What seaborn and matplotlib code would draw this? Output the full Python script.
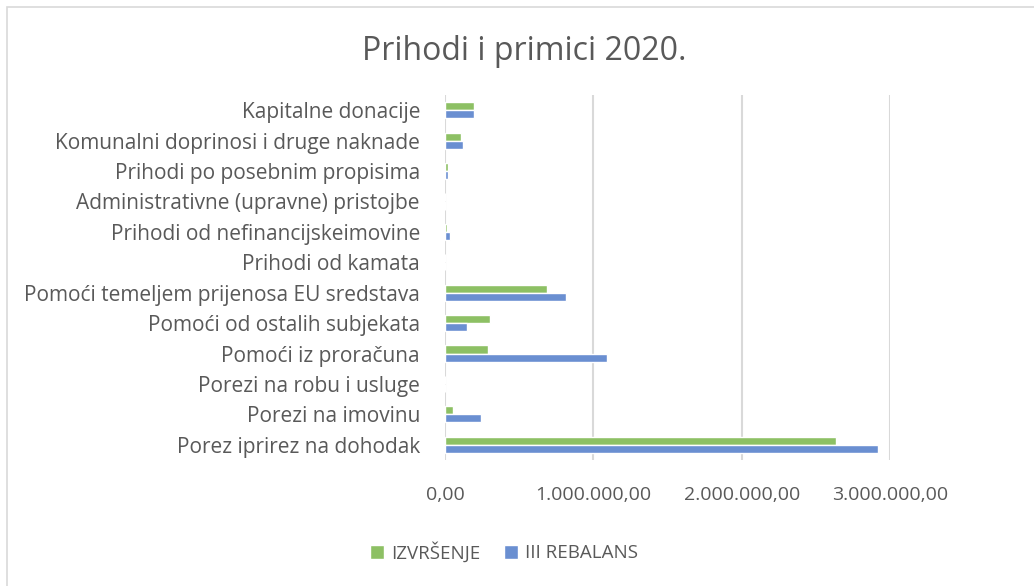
import pandas as pd
import numpy as np
import matplotlib
matplotlib.use("Agg")
import matplotlib.pyplot as plt
import seaborn as sns
from matplotlib.ticker import FuncFormatter
from matplotlib.patches import Rectangle

# kategorije od vrha prema dnu
kategorije = [
    "Kapitalne donacije",
    "Komunalni doprinosi i druge naknade",
    "Prihodi po posebnim propisima",
    "Administrativne (upravne) pristojbe",
    "Prihodi od nefinancijskeimovine",
    "Prihodi od kamata",
    "Pomoći temeljem prijenosa EU sredstava",
    "Pomoći od ostalih subjekata",
    "Pomoći iz proračuna",
    "Porezi na robu i usluge",
    "Porezi na imovinu",
    "Porez iprirez na dohodak",
]
izvrsenje = [195000, 108000, 18000, 0, 11000, 0, 688000, 305000, 292000, 0, 54000, 2633000]
rebalans = [195000, 119000, 18000, 0, 34000, 0, 817000, 148000, 1090000, 0, 245000, 2918000]
serije = ["IZVRŠENJE", "III REBALANS"]
x_ticks = [0, 1000000, 2000000, 3000000]

df = pd.DataFrame({
    "kategorija": kategorije * 2,
    "iznos": izvrsenje + rebalans,
    "serija": [serije[0]] * len(kategorije) + [serije[1]] * len(kategorije),
})

sns.set_style("white")
plt.rcParams['font.family'] = ['Open Sans', 'DejaVu Sans']
siva = '#595959'

fig = plt.figure(figsize=(10.34, 5.86), dpi=100)
ax = fig.add_axes([445/1034, 1 - 460/586, 445/1034, 365/586])

sns.barplot(data=df, y="kategorija", x="iznos", hue="serija", order=kategorije,
            hue_order=serije, palette=['#8dc064', '#6a8fd1'], width=0.53,
            orient='h', ax=ax, saturation=1, legend=True)

ax.set_xlim(0, 3000000)
ax.set_xticks(x_ticks)
ax.xaxis.set_major_formatter(FuncFormatter(
    lambda v, p: f"{v:,.2f}".replace(",", "X").replace(".", ",").replace("X", ".")))
ax.grid(axis='x', color='#d9d9d9', linewidth=1.5)
ax.set_axisbelow(True)
for s in ax.spines.values():
    s.set_visible(False)
ax.tick_params(axis='x', length=0, pad=19, labelsize=14, labelcolor=siva)
ax.tick_params(axis='y', length=0, pad=18, labelsize=15, labelcolor=siva)
ax.set_xlabel("")
ax.set_ylabel("")

h, l = ax.get_legend_handles_labels()
ax.get_legend().remove()
fig.legend(h, l, loc='center', bbox_to_anchor=(504/1034, 1 - 552/586), ncol=2,
           frameon=False, fontsize=13.5, labelcolor=siva, handlelength=0.75,
           handleheight=0.75, handletextpad=0.35, columnspacing=1.3)

fig.text(524/1034, 1 - 52/586, "Prihodi i primici 2020.", ha='center', va='center',
         fontsize=23, color=siva)

fig.patches.append(Rectangle((7/1034, -0.01), 1.02, 1 - 7/586 + 0.01, transform=fig.transFigure,
                             fill=False, edgecolor='#d9d9d9', linewidth=1.2))

fig.savefig("out.png", dpi=100)
